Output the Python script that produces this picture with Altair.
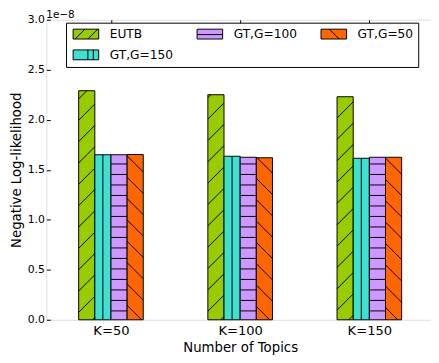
import altair as alt
import pandas as pd

# ---- data ----
groups = ["K=50", "K=100", "K=150"]
series = ["EUTB", "GT,G=150", "GT,G=100", "GT,G=50"]
eutb = [2.29e-8, 2.25e-8, 2.23e-8]
gt150 = [1.65e-8, 1.635e-8, 1.615e-8]
gt100 = [1.65e-8, 1.625e-8, 1.625e-8]
gt50 = [1.652e-8, 1.62e-8, 1.625e-8]
y_ticks = [0.0, 0.5e-8, 1.0e-8, 1.5e-8, 2.0e-8, 2.5e-8, 3.0e-8]
offset_text = ["1e\u22128"]

# ---- style ----
colors = {"EUTB": "#99cc00", "GT,G=150": "#40e0d0", "GT,G=100": "#cc99ff", "GT,G=50": "#ff6600"}
hatch = {"EUTB": "/", "GT,G=150": "|", "GT,G=100": "-", "GT,G=50": "\\"}
RECT = "M-2.6,-1H2.6V1H-2.6Z "
swatch = {
    "EUTB": RECT + "M-2.2,1L-0.2,-1 M0.4,1L2.4,-1",
    "GT,G=150": RECT + "M0.4,-1L0.4,1 M1.5,-1L1.5,1",
    "GT,G=100": RECT + "M-2.6,0.1L2.6,0.1",
    "GT,G=50": RECT + "M-0.9,-1L1.1,1",
}
W, H = 394, 305
XDOM = [-0.5, 2.5]
YDOM = [0, 3e-8]
BAR_W = 0.125
PX = W / (XDOM[1] - XDOM[0])      # pixels per x unit
PY = H / (YDOM[1] - YDOM[0])      # pixels per y unit
FONT = "DejaVu Sans"

values = {"EUTB": eutb, "GT,G=150": gt150, "GT,G=100": gt100, "GT,G=50": gt50}

rows = []
for gi, g in enumerate(groups):
    for si, s in enumerate(series):
        x0 = gi - 2 * BAR_W + si * BAR_W
        rows.append({"group": g, "series": s, "x0": x0, "x1": x0 + BAR_W,
                     "xm": x0 + BAR_W / 2, "value": values[s][gi],
                     "half": values[s][gi] / 2, "base": 0.0})
bars = pd.DataFrame(rows)

# hatch segments (pattern spacing in pixels, converted to data units)
segs = []
for r in rows:
    X0 = (r["x0"] - XDOM[0]) * PX
    X1 = (r["x1"] - XDOM[0]) * PX
    Hb = r["value"] * PY
    h = hatch[r["series"]]
    lines = []
    if h == "/":
        for k in range(-40, 40):
            c = -3.6 + k * 21.7
            xa, xb = max(X0, -c), min(X1, Hb - c)
            if xb - xa > 0.5:
                lines.append((xa, xa + c, xb, xb + c))
    elif h == "\\":
        for k in range(-40, 60):
            c = 10 + k * 21.7
            xa, xb = max(X0, c - Hb), min(X1, c)
            if xb - xa > 0.5:
                lines.append((xa, c - xa, xb, c - xb))
    elif h == "-":
        k = 0
        while 9 + k * 10.67 < Hb - 1:
            yy = 9 + k * 10.67
            lines.append((X0, yy, X1, yy))
            k += 1
    elif h == "|":
        xc = (X0 + X1) / 2
        lines.append((xc, 0, xc, Hb))
    for (a, b, c2, d) in lines:
        segs.append({"series": r["series"],
                     "sx": a / PX + XDOM[0], "sy": b / PY,
                     "sx2": c2 / PX + XDOM[0], "sy2": d / PY})
hatch_df = pd.DataFrame(segs)

legend_order = [series[0], series[2], series[3], series[1]]
xscale = alt.Scale(domain=XDOM, nice=False, zero=False)
yscale = alt.Scale(domain=YDOM, nice=False, zero=False)

label_expr = "[" + ",".join("'%s'" % g for g in groups) + "][round(datum.value)]"

xaxis = alt.Axis(orient="bottom", values=[0, 1, 2], labelExpr=label_expr,
                 title="Number of Topics",
                 ticks=False, domain=False, grid=False, labelPadding=4,
                 labelFontSize=13.3, titleFontSize=13.5, titlePadding=4,
                 labelFont=FONT, titleFont=FONT, titleFontWeight="normal",
                 labelColor="black", titleColor="black")
yaxis = alt.Axis(orient="left", values=y_ticks, labelExpr="format(datum.value * 1e8, '.1f')",
                 title="Negative Log-likelihood", ticks=False, domain=False, grid=False,
                 labelPadding=2, labelFontSize=11, titleFontSize=13.5, titlePadding=4,
                 labelFont=FONT, titleFont=FONT, titleFontWeight="normal",
                 labelColor="black", titleColor="black")
# inward ticks along the top and left edges of the frame
xticks_top = alt.Axis(orient="bottom", offset=-H, values=[0, 1, 2], labels=False, ticks=True,
                      tickSize=4, tickColor="black", domain=False, grid=False, title=None)
yticks_left = alt.Axis(orient="right", offset=-W, values=y_ticks, labels=False, ticks=True,
                       tickSize=4, tickColor="black", domain=False, grid=False, title=None)

legend = alt.Legend(title=None, orient="none", legendX=20, legendY=3, columns=3,
                    direction="horizontal",
                    strokeColor="black", fillColor="white", padding=5,
                    cornerRadius=0, labelFont=FONT, labelFontSize=12.4,
                    labelColor="black", symbolSize=100, symbolStrokeWidth=1,
                    symbolStrokeColor="black", symbolOffset=9, labelOffset=18,
                    columnPadding=22, rowPadding=6.5)

# points hidden under the bars that carry the legend (fill + hatched shape)
legend_pts = alt.Chart(bars).mark_point(filled=True, size=4, opacity=1,
                                        stroke="black", strokeWidth=1).encode(
    x=alt.X("xm:Q", scale=xscale, axis=None),
    y=alt.Y("half:Q", scale=yscale, axis=None),
    fill=alt.Fill("series:N", legend=legend,
                  scale=alt.Scale(domain=legend_order, range=[colors[s] for s in legend_order])),
    shape=alt.Shape("series:N", legend=legend,
                    scale=alt.Scale(domain=legend_order, range=[swatch[s] for s in legend_order])),
    stroke=alt.Stroke("series:N", legend=legend,
                      scale=alt.Scale(domain=legend_order, range=["black"] * len(legend_order))),
)

rects = alt.Chart(bars).mark_rect(stroke="black", strokeWidth=1).encode(
    x=alt.X("x0:Q", scale=xscale, axis=xaxis),
    x2="x1:Q",
    y=alt.Y("value:Q", scale=yscale, axis=yaxis),
    y2="base:Q",
    fill=alt.Fill("series:N", legend=None,
                  scale=alt.Scale(domain=series, range=[colors[s] for s in series])),
)

hatches = alt.Chart(hatch_df).mark_rule(color="black", strokeWidth=1).encode(
    x=alt.X("sx:Q", scale=xscale, axis=xticks_top),
    x2="sx2:Q",
    y=alt.Y("sy:Q", scale=yscale, axis=yticks_left),
    y2="sy2:Q",
)

offset_lbl = alt.Chart(pd.DataFrame({"t": offset_text})).mark_text(
    align="left", baseline="alphabetic", font=FONT, fontSize=10.6, color="black"
).encode(x=alt.value(0), y=alt.value(-2), text="t:N")

chart = alt.layer(legend_pts, rects, hatches, offset_lbl).resolve_scale(
    fill="independent", shape="independent", stroke="independent"
).resolve_axis(x="independent", y="independent").properties(
    width=W, height=H,
    autosize=alt.AutoSizeParams(type="none"),
    padding={"left": 39, "top": 9, "right": -3, "bottom": 40},
).configure_view(stroke="black", strokeWidth=1).configure(font=FONT)

chart.save("out.html", embed_options={"renderer": "svg", "actions": False})
